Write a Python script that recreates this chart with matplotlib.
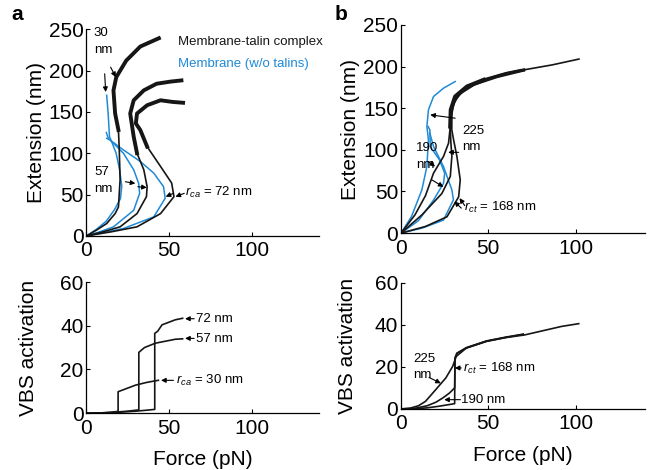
import numpy as np
import matplotlib
matplotlib.use('Agg')
import matplotlib.pyplot as plt

plt.rcParams['font.family'] = ['Liberation Sans', 'DejaVu Sans']
plt.rcParams['mathtext.fontset'] = 'custom'
plt.rcParams['mathtext.it'] = 'Liberation Sans:italic'
plt.rcParams['mathtext.rm'] = 'Liberation Sans'

BLACK = '#161616'
BLUE = '#1f8ad6'

# ---- panel a, top: extension vs force (pN, nm)
a_k30_f = [0, 6, 12.2, 17.3, 19.3, 20.3, 19.8, 19.3, 17.3, 16.3, 18, 24, 32.5, 43.7]
a_k30_e = [0, 7, 15, 27, 35, 68, 104, 128, 148, 176, 192, 212, 229, 239]
a_k57_f = [0, 10, 20.3, 30.5, 36.2, 36.6, 34.6, 30.5, 28.5, 26.4, 28.5, 34.6, 42.3, 50.8, 57.3]
a_k57_e = [0, 5, 11, 27, 47.5, 59.6, 80, 100, 120, 148, 164, 176, 184, 186.6, 188]
a_k72_f = [0, 15, 30.5, 44.7, 52.8, 51.4, 44.7, 36.6, 32.5, 29.8, 30.5, 36.6, 44.7, 52, 58.3]
a_k72_e = [0, 5, 11, 27, 47.5, 64, 84, 108, 128, 136, 148, 158, 164, 162, 161]
a_b30_f = [0, 6, 12, 17, 20.5, 21.3, 20, 17.9, 14.8, 13.9, 13.1, 12.2]
a_b30_e = [0, 8, 18, 32, 45, 60, 80, 100, 116, 120, 148, 170]
a_b57_f = [0, 8, 16.3, 28.5, 32.1, 31.5, 28.5, 22.3, 16.3, 13.2, 12]
a_b57_e = [0, 5, 11, 31, 51.5, 63.6, 80, 100, 112, 118, 125]
a_b72_f = [0, 10, 22.3, 40.6, 47.5, 46.5, 40.6, 32.5, 22.3, 14.2, 12.2]
a_b72_e = [0, 4, 9, 23, 45.5, 59.6, 76, 90, 104, 116, 118]

# ---- panel b, top
b_k225_f = [0, 8, 14, 18.6, 24.3, 27.2, 28.2, 28.5, 31, 37.8, 47.3, 60.7, 70.3, 86.6, 101.9]
b_k225_e = [0, 22, 45, 72, 92, 108, 128, 148, 164, 176, 184, 192, 196, 202, 209]
b_k190_f = [0, 12, 23.4, 28.2, 29.1, 28.5, 28.2, 29, 33, 42, 55, 70.5]
b_k190_e = [0, 22, 47.6, 68, 92, 110, 128, 150, 166, 178, 187, 195]
b_k168_f = [0, 14, 26.3, 33, 33.9, 32, 30.1, 29, 28.8, 30.5, 36, 46, 58, 69]
b_k168_e = [0, 8, 19.6, 43.6, 64, 92, 112, 125, 140, 158, 172, 183, 191, 196]
b_b225_f = [0, 6, 11.9, 14.8, 15.7, 14.8, 15.7, 18.6, 24.3, 31]
b_b225_e = [0, 20, 51.7, 80, 112, 128, 148, 164, 174, 182]
b_b190_f = [0, 10, 18.6, 24.3, 25, 22, 16.7, 16.5, 15.5]
b_b190_e = [0, 15, 39.7, 59.7, 72, 88, 104, 124, 128]
b_b168_f = [0, 12, 24.3, 30, 29.1, 24.3, 18.6, 16.5]
b_b168_e = [0, 6, 15.6, 40, 52, 80, 104, 120]

# ---- panel a, bottom: VBS activation vs force
va30_f = [0, 5, 10, 15, 19.1, 19.1, 29.6, 36, 41.6, 43.4]
va30_v = [0, 0, 0.15, 0.4, 0.8, 9.8, 12.8, 14, 14.8, 15]
va57_f = [0, 5, 15, 25, 31.6, 31.6, 35, 41.6, 53.6, 58]
va57_v = [0, 0, 0.3, 0.9, 1.5, 27.8, 30, 32, 33.8, 34]
va72_f = [0, 5, 15, 30, 41.2, 41.2, 43, 45.6, 53.6, 58]
va72_v = [0, 0, 0.2, 0.9, 1.7, 36.5, 37.5, 40.4, 42.7, 43.4]

# ---- panel b, bottom
vb225_f = [0, 5, 10, 14, 19.9, 25.7, 29.6, 31.6, 37.4, 49, 60, 70.6, 80, 92, 101.8]
vb225_v = [0, 0.3, 1.5, 3.6, 9.2, 14.8, 20.3, 25, 29, 32.2, 34, 35.2, 37, 39.3, 40.6]
vb190_f = [0, 8, 15, 20, 23.9, 27.8, 30.7, 30.9, 32, 37.4, 49, 60, 70]
vb190_v = [0, 0.3, 1.5, 3.2, 5.2, 7.6, 10, 24, 26.5, 29, 32.2, 34, 35.5]
vb168_f = [0, 8, 15, 22, 30.7, 30.9, 32, 37.4, 49, 60, 70]
vb168_v = [0, 0.1, 0.5, 1.3, 2.5, 24.3, 26.5, 29.2, 32.4, 34.2, 35.6]

fig = plt.figure(figsize=(6.5, 4.7), dpi=100)
ax1 = fig.add_axes([0.133, 0.498, 0.357, 0.440])
ax2 = fig.add_axes([0.617, 0.504, 0.376, 0.443])
ax3 = fig.add_axes([0.133, 0.121, 0.357, 0.279])
ax4 = fig.add_axes([0.617, 0.130, 0.376, 0.268])


def style(ax, ylim, yticks, ylabel, ylabelpad, xlabel=None):
    ax.set_xlim(0, 140)
    ax.set_ylim(*ylim)
    ax.set_xticks([0, 50, 100])
    ax.set_yticks(yticks)
    for s in ['top', 'right']:
        ax.spines[s].set_visible(False)
    for s in ['left', 'bottom']:
        ax.spines[s].set_linewidth(0.9)
    ax.tick_params(direction='in', length=3, width=0.8, labelsize=15)
    ax.tick_params(axis='y', pad=2)
    ax.tick_params(axis='x', pad=4)
    ax.set_ylabel(ylabel, fontsize=15, labelpad=ylabelpad)
    if xlabel:
        ax.set_xlabel(xlabel, fontsize=15, labelpad=9)


def arrow(ax, tail, head):
    ax.annotate('', xy=head, xytext=tail,
                arrowprops=dict(arrowstyle='-|>', color='k', lw=0.8,
                                mutation_scale=7, shrinkA=0, shrinkB=0))


# top-left
for f, e in [(a_b30_f, a_b30_e), (a_b57_f, a_b57_e), (a_b72_f, a_b72_e)]:
    ax1.plot(f, e, color=BLUE, lw=1.1)
for f, e in [(a_k30_f, a_k30_e), (a_k57_f, a_k57_e), (a_k72_f, a_k72_e)]:
    ax1.plot(f, e, color=BLACK, lw=1.2)
    ax1.plot(f[7:], e[7:], color=BLACK, lw=2.8)
style(ax1, (0, 250), [0, 50, 100, 150, 200, 250], 'Extension (nm)', 2)
ax1.text(4.5, 235, '30\nnm', fontsize=9.5, va='center', linespacing=1.5)
arrow(ax1, (14.6, 204), (17.7, 192))
arrow(ax1, (11.0, 196), (11.6, 174))
ax1.text(4.5, 67, '57\nnm', fontsize=9.5, va='center', linespacing=1.5)
arrow(ax1, (23.5, 65.5), (29.5, 63.5))
arrow(ax1, (31.0, 59.5), (36.4, 58.5))
ax1.text(59.5, 52, r'$r_{ca}$ = 72 nm', fontsize=9.5, va='center')
arrow(ax1, (52.5, 51.5), (47.8, 47.5))
arrow(ax1, (59.0, 51.5), (53.7, 47.5))
ax1.text(55, 235, 'Membrane-talin complex', fontsize=9.5, color=BLACK, va='center')
ax1.text(55, 208, 'Membrane (w/o talins)', fontsize=9.5, color=BLUE, va='center')

# top-right
for f, e in [(b_b225_f, b_b225_e), (b_b190_f, b_b190_e), (b_b168_f, b_b168_e)]:
    ax2.plot(f, e, color=BLUE, lw=1.1)
for f, e in [(b_k225_f, b_k225_e), (b_k190_f, b_k190_e), (b_k168_f, b_k168_e)]:
    ax2.plot(f, e, color=BLACK, lw=1.2)
ax2.plot(b_k225_f[6:11], b_k225_e[6:11], color=BLACK, lw=3.0)
ax2.plot(b_k225_f[10:13], b_k225_e[10:13], color=BLACK, lw=2.2)
style(ax2, (0, 250), [0, 50, 100, 150, 200, 250], 'Extension (nm)', 2)
ax2.text(35, 113, '225\nnm', fontsize=9.5, va='center', linespacing=1.5)
arrow(ax2, (31, 138), (16.7, 142))
arrow(ax2, (33, 97), (27, 97))
ax2.text(8.5, 92, '190\nnm', fontsize=9.5, va='center', linespacing=1.5)
arrow(ax2, (15.7, 86), (19.5, 80))
arrow(ax2, (17.6, 64), (24.3, 55.5))
ax2.text(36, 31, r'$r_{ct}$ = 168 nm', fontsize=9.5, va='center')
arrow(ax2, (34.5, 30), (30.5, 38))
arrow(ax2, (36.5, 33), (33.5, 42))

# bottom-left
for f, v in [(va30_f, va30_v), (va57_f, va57_v), (va72_f, va72_v)]:
    ax3.plot(f, v, color=BLACK, lw=1.2)
style(ax3, (0, 60), [0, 20, 40, 60], 'VBS activation', 16, 'Force (pN)')
ax3.text(66, 43, '72 nm', fontsize=9.5, va='center')
arrow(ax3, (65, 43.2), (59.5, 43.2))
ax3.text(66, 34, '57 nm', fontsize=9.5, va='center')
arrow(ax3, (65, 34.2), (59.5, 34.2))
ax3.text(54, 15, r'$r_{ca}$ = 30 nm', fontsize=9.5, va='center')
arrow(ax3, (52.5, 15), (45, 15))

# bottom-right
for f, v in [(vb225_f, vb225_v), (vb190_f, vb190_v), (vb168_f, vb168_v)]:
    ax4.plot(f, v, color=BLACK, lw=1.2)
style(ax4, (0, 60), [0, 20, 40, 60], 'VBS activation', 13, 'Force (pN)')
ax4.text(7, 20, '225\nnm', fontsize=9.5, va='center', linespacing=1.5)
arrow(ax4, (16, 15), (22.8, 12.2))
ax4.text(35.5, 19.5, r'$r_{ct}$ = 168 nm', fontsize=9.5, va='center')
arrow(ax4, (34.5, 19.5), (30.8, 19.5))
ax4.text(34.5, 4.4, '190 nm', fontsize=9.5, va='center')
arrow(ax4, (34, 4.4), (24.7, 4.4))

fig.text(0.018, 0.97, 'a', fontsize=15, fontweight='bold', va='center')
fig.text(0.515, 0.97, 'b', fontsize=15, fontweight='bold', va='center')

fig.savefig('out.png', dpi=100)
